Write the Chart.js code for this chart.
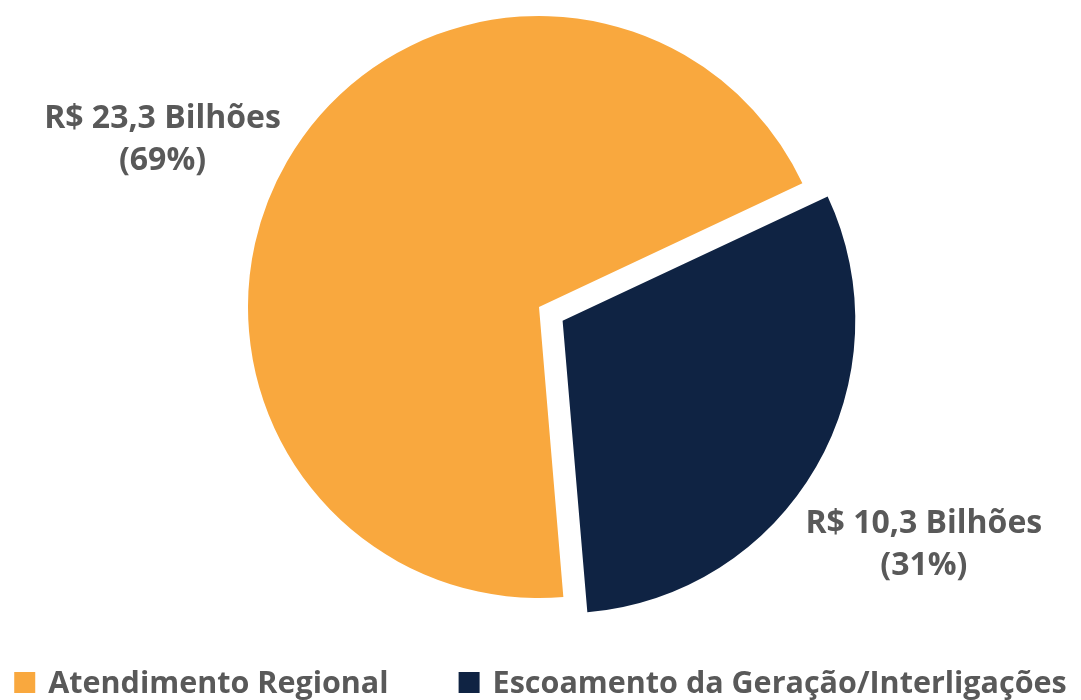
<!DOCTYPE html>
<html lang="pt">
<head>
    <meta charset="UTF-8">
    <title>Investimentos</title>
    <style>
        html, body { margin: 0; padding: 0; background: #ffffff; }
        #wrap { width: 1081px; height: 700px; position: relative; }
    </style>
    <script src="https://cdn.jsdelivr.net/npm/chart.js"></script>
</head>
<body>
    <div id="wrap"><canvas id="pieChart" width="1081" height="700"></canvas></div>
    <script>
        // dados do grafico
        const categorias = ['Atendimento Regional', 'Escoamento da Geração/Interligações'];
        const valores = [23.3, 10.3];             // R$ bilhões
        const rotulosValor = ['R$ 23,3 Bilhões', 'R$ 10,3 Bilhões'];
        const rotulosPct = ['(69%)', '(31%)'];
        const cores = ['#F9A83E', '#0F2343'];
        const afastamento = [0, 109];   // unidade do Chart.js (arco desloca ~offset/4)

        const cinza = '#595959';
        const fonte = '"Open Sans", Lato, sans-serif';

        // posicao dos rotulos relativa a cada fatia (desvio de angulo em graus, fator de raio)
        const posRotulo = [
            { desvio: -5.95, fator: 1.417 },
            { desvio: 1.65, fator: 1.554 }
        ];

        const rotulosPlugin = {
            id: 'rotulos',
            afterDatasetsDraw(chart) {
                const ctx = chart.ctx;
                const meta = chart.getDatasetMeta(0);
                ctx.save();
                ctx.fillStyle = cinza;
                ctx.font = 'bold 32px ' + fonte;
                ctx.textAlign = 'center';
                ctx.textBaseline = 'alphabetic';
                meta.data.forEach((arc, i) => {
                    const p = arc.getProps(['x', 'y', 'startAngle', 'endAngle', 'outerRadius'], true);
                    const ang = (p.startAngle + p.endAngle) / 2 + posRotulo[i].desvio * Math.PI / 180;
                    const dist = p.outerRadius * posRotulo[i].fator;
                    const cx = p.x + Math.cos(ang) * dist;
                    const cy = p.y + Math.sin(ang) * dist;
                    ctx.fillText(rotulosValor[i], cx, cy - 11);
                    ctx.fillText(rotulosPct[i], cx, cy + 31);
                });
                ctx.restore();
            }
        };

        // legenda na base, itens lado a lado
        const legendaPlugin = {
            id: 'legendaBase',
            afterDraw(chart) {
                const ctx = chart.ctx;
                const caixa = 21, folga = 13, entre = 70;
                ctx.save();
                ctx.font = 'bold 30.5px ' + fonte;
                ctx.textBaseline = 'alphabetic';
                ctx.textAlign = 'left';
                const larguras = categorias.map(t => ctx.measureText(t).width);
                const total = larguras.reduce((a, b) => a + b, 0) + categorias.length * (caixa + folga) + (categorias.length - 1) * entre;
                let x = (chart.width - total) / 2;
                const base = 693;
                categorias.forEach((t, i) => {
                    ctx.fillStyle = cores[i];
                    ctx.fillRect(x, base - caixa, caixa, caixa);
                    ctx.fillStyle = cinza;
                    ctx.fillText(t, x + caixa + folga, base);
                    x += caixa + folga + larguras[i] + entre;
                });
                ctx.restore();
            }
        };

        const ctx = document.getElementById('pieChart').getContext('2d');
        const pieChart = new Chart(ctx, {
            type: 'pie',
            data: {
                labels: categorias,
                datasets: [{
                    data: valores,
                    backgroundColor: cores,
                    borderWidth: 0,
                    offset: afastamento,
                    radius: 291,
                    rotation: 175.2
                }]
            },
            options: {
                responsive: false,
                animation: false,
                layout: {
                    padding: { top: 0, bottom: 86, left: 0, right: 3 }
                },
                plugins: {
                    tooltip: { enabled: false },
                    legend: { display: false }
                }
            },
            plugins: [rotulosPlugin, legendaPlugin]
        });
    </script>
</body>
</html>
